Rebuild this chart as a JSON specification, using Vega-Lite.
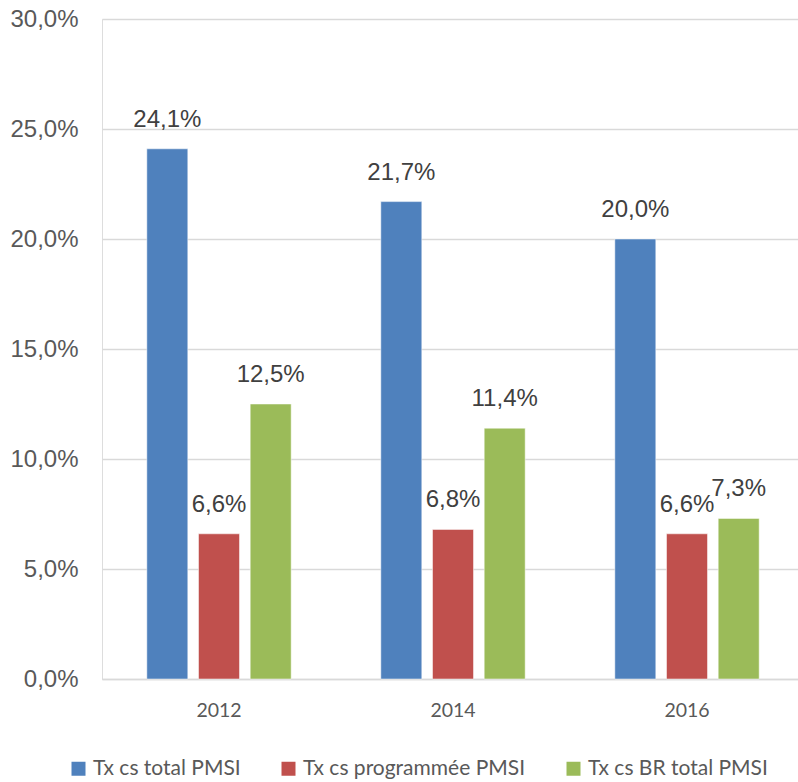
{
  "$schema": "https://vega.github.io/schema/vega-lite/v6.json",
  "width": 702,
  "height": 660,
  "autosize": {"type": "none"},
  "padding": {"left": 102, "top": 19, "right": 0, "bottom": 103},
  "background": "white",
  "data": {
    "values": [
      {"year": "2012", "series": "Tx cs total PMSI", "value": 0.241},
      {"year": "2012", "series": "Tx cs programmée PMSI", "value": 0.066},
      {"year": "2012", "series": "Tx cs BR total PMSI", "value": 0.125},
      {"year": "2014", "series": "Tx cs total PMSI", "value": 0.217},
      {"year": "2014", "series": "Tx cs programmée PMSI", "value": 0.068},
      {"year": "2014", "series": "Tx cs BR total PMSI", "value": 0.114},
      {"year": "2016", "series": "Tx cs total PMSI", "value": 0.200},
      {"year": "2016", "series": "Tx cs programmée PMSI", "value": 0.066},
      {"year": "2016", "series": "Tx cs BR total PMSI", "value": 0.073}
    ]
  },
  "transform": [
    {"calculate": "replace(format(datum.value, '.1%'), '.', ',')", "as": "label"}
  ],
  "encoding": {
    "x": {
      "field": "year", "type": "nominal",
      "scale": {"paddingInner": 0, "paddingOuter": 0},
      "axis": {
        "title": null, "labelAngle": 0, "ticks": false, "domain": true,
        "domainColor": "#d9d9d9", "domainWidth": 1.5,
        "labelFont": "Lato", "labelFontSize": 19.5, "labelColor": "#595959",
        "labelPadding": 22
      }
    },
    "xOffset": {
      "field": "series", "type": "nominal",
      "sort": ["Tx cs total PMSI", "Tx cs programmée PMSI", "Tx cs BR total PMSI"],
      "scale": {"paddingInner": 0.207, "paddingOuter": 0.867}
    },
    "y": {
      "field": "value", "type": "quantitative",
      "scale": {"domain": [0, 0.3], "nice": false},
      "axis": {
        "title": null, "values": [0, 0.05, 0.1, 0.15, 0.2, 0.25, 0.3],
        "labelExpr": "replace(format(datum.value, '.1%'), '.', ',')",
        "ticks": false, "domain": false,
        "gridColor": "#d9d9d9", "gridWidth": 1.5,
        "labelFont": "Liberation Sans", "labelFontSize": 24, "labelColor": "#595959",
        "labelPadding": 24
      }
    }
  },
  "layer": [
    {
      "mark": {"type": "bar", "stroke": "white", "strokeWidth": 0.5},
      "encoding": {
        "color": {
          "field": "series", "type": "nominal",
          "sort": ["Tx cs total PMSI", "Tx cs programmée PMSI", "Tx cs BR total PMSI"],
          "scale": {
            "domain": ["Tx cs total PMSI", "Tx cs programmée PMSI", "Tx cs BR total PMSI"],
            "range": ["#4F81BD", "#C0504D", "#9BBB59"]
          },
          "legend": {
            "title": null, "orient": "none", "direction": "horizontal",
            "legendX": -34, "legendY": 739,
            "symbolType": "square", "symbolSize": 196, "symbolStrokeWidth": 0,
            "labelFont": "Lato", "labelFontSize": 21, "labelColor": "#595959",
            "labelLimit": 0,
            "columnPadding": 37, "labelOffset": 4
          }
        }
      }
    },
    {
      "mark": {"type": "text", "baseline": "alphabetic", "dy": -22, "font": "Liberation Sans", "fontSize": 24, "color": "#404040"},
      "encoding": {"text": {"field": "label"}}
    }
  ]
}
